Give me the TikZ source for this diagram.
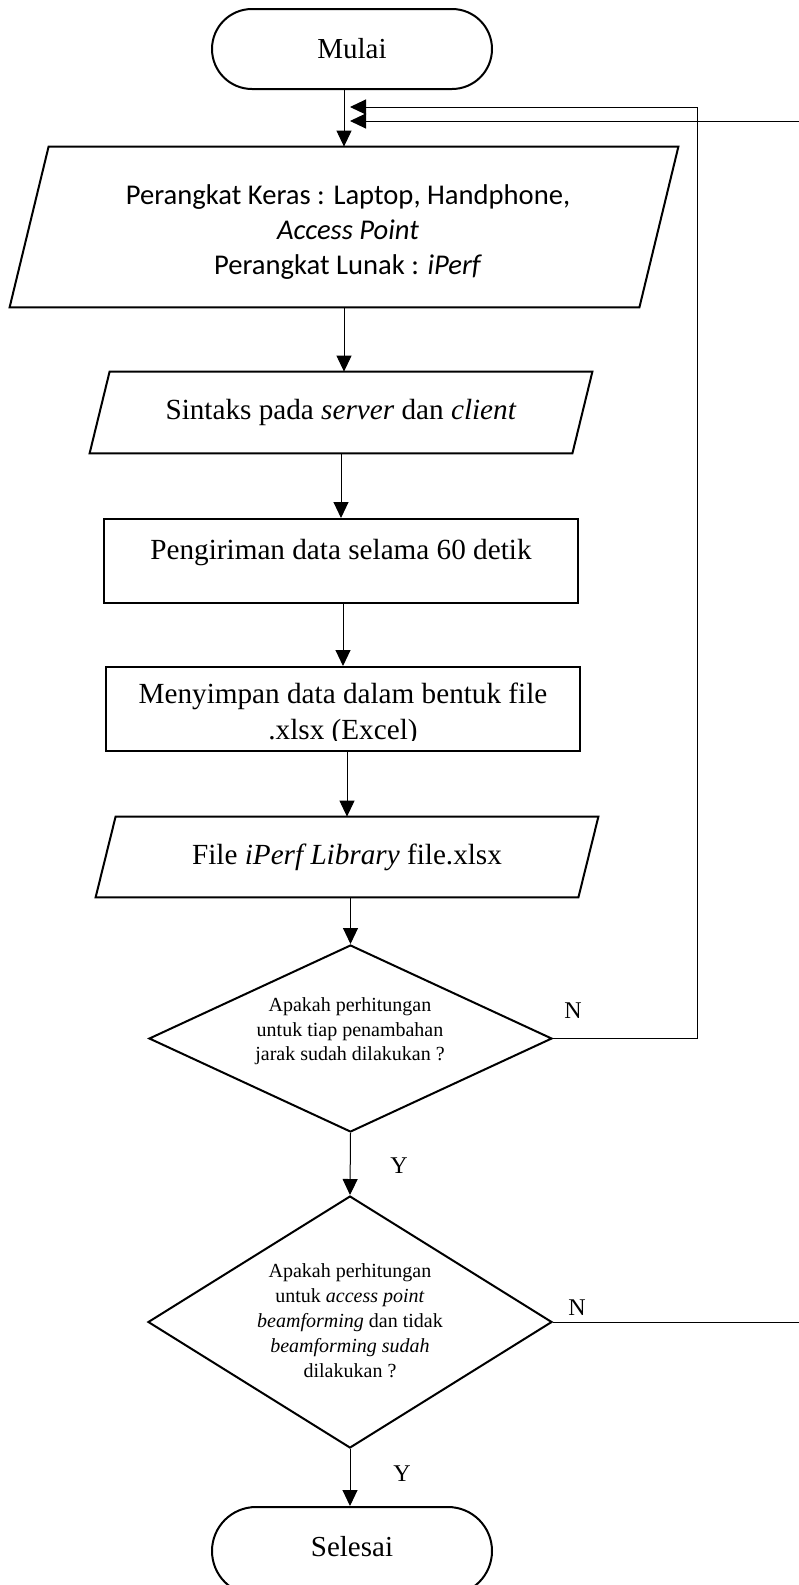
\documentclass[tikz,border=0pt]{standalone}
\usepackage{fontspec}
\setmainfont{Liberation Serif}
\newfontfamily\calibrifont{Carlito}
\usetikzlibrary{shapes.geometric,shapes.misc,arrows.meta,calc}
\begin{document}
\begin{tikzpicture}[x=0.5pt,y=-0.5pt,
  shapeline/.style={draw=black, line width=1pt},
  term/.style={shapeline, rounded rectangle, minimum width=140pt, minimum height=40pt, inner sep=0pt, font=\fontsize{14.5}{17}\selectfont},
  procbox/.style={shapeline, rectangle, inner sep=0pt, minimum width=237pt, minimum height=42pt, font=\fontsize{14.6}{18}\selectfont},
  iobox/.style={rectangle, inner sep=0pt, font=\fontsize{14.6}{18}\selectfont},
  decision/.style={shapeline, diamond, inner sep=0pt},
  dtext/.style={align=center, inner sep=0pt, font=\fontsize{10}{12.4}\selectfont},
  yn/.style={inner sep=0pt, anchor=base, font=\fontsize{12}{14}\selectfont},
  arr/.style={line width=0.5pt, -{Triangle[length=8pt,width=7.5pt]}},
]
\useasboundingbox (0,0) rectangle (798,1585);
\fill[white] (0,0) rectangle (798,1585);

% terminators
\node[term] (mulai) at (352,49) {Mulai};
\node[term, minimum height=44pt, text height=9.9pt, text depth=4.4pt] (sel) at (352,1551) {Selesai};

% input 1
\node[iobox, minimum width=314.5pt, minimum height=80pt] (p1) at (344,227) {};
\draw[shapeline] ($(p1.north west)+(19.5,0)$) -- ($(p1.north east)+(19.5,0)$) -- ($(p1.south east)+(-19.5,0)$) -- ($(p1.south west)+(-19.5,0)$) -- cycle;
\node[iobox, align=center, font=\calibrifont\fontsize{14.3}{17.5}\selectfont] (p1t) at (348,232)
  {Perangkat Keras : Laptop, Handphone,\\ \textit{Access Point}\\ Perangkat Lunak : \textit{iPerf}};

% input 2
\node[iobox, minimum width=241pt, minimum height=40.5pt] (p2) at (341,412.5)
  {Sintaks pada \textit{server} dan \textit{client}};
\draw[shapeline] ($(p2.north west)+(10,0)$) -- ($(p2.north east)+(10,0)$) -- ($(p2.south east)+(-10,0)$) -- ($(p2.south west)+(-10,0)$) -- cycle;

% process 1
\node[procbox, text height=8pt, text depth=10pt] (r1) at (341,561) {Pengiriman data selama 60 detik};

% process 2 (text clipped at the bottom)
\node[procbox] (r2) at (343,709) {};
\begin{scope}
  \clip (r2.north west) rectangle ([yshift=6pt]r2.south east);
  \node[iobox, align=center] (r2t) at (343,714.7) {Menyimpan data dalam bentuk file\\.xlsx (Excel)};
\end{scope}

% input 3
\node[iobox, minimum width=241pt, minimum height=40pt] (p3) at (347,857)
  {File \textit{iPerf Library} file.xlsx};
\draw[shapeline] ($(p3.north west)+(10,0)$) -- ($(p3.north east)+(10,0)$) -- ($(p3.south east)+(-10,0)$) -- ($(p3.south west)+(-10,0)$) -- cycle;

% decisions
\node[decision, minimum width=201.5pt, minimum height=93.5pt] (d1) at (350.5,1038.5) {};
\node[dtext] (d1t) at (350,1031.3) {Apakah perhitungan\\ untuk tiap penambahan\\ jarak sudah dilakukan ?};
\node[decision, minimum width=202pt, minimum height=126pt] (d2) at (350,1322) {};
\node[dtext] (d2t) at (350,1320.7) {Apakah perhitungan\\ untuk \textit{access point}\\ \textit{beamforming} dan tidak\\ \textit{beamforming sudah}\\ dilakukan ?};

% labels
\node[yn] (n1) at (573,1018) {N};
\node[yn] (y1) at (399,1173) {Y};
\node[yn] (n2) at (577,1315) {N};
\node[yn] (y2) at (402,1481) {Y};

% main flow
\draw[arr] (mulai.south -| p1.north) -- (p1.north);
\draw[arr] (p1.south) -- (p1.south |- p2.north);
\draw[arr] (p2.south) -- (p2.south |- r1.north);
\draw[arr] (r1.south -| r2.north) -- (r2.north);
\draw[arr] (r2.south -| p3.north) -- (p3.north);
\draw[arr] (p3.south -| d1.north) -- (d1.north);
\draw[arr] (d1.south) -- (d2.north);
\draw[arr] (d2.south) -- (d2.south |- sel.north);

% feedback loops
\coordinate (c1) at (697,107);
\coordinate (j1) at (350,107);
\draw[arr] (d1.east) -| (c1) -- (j1);
\coordinate (c2) at (840,121);
\coordinate (j2) at (350,121);
\draw[arr] (d2.east) -| (c2) -- (j2);
\end{tikzpicture}
\end{document}
